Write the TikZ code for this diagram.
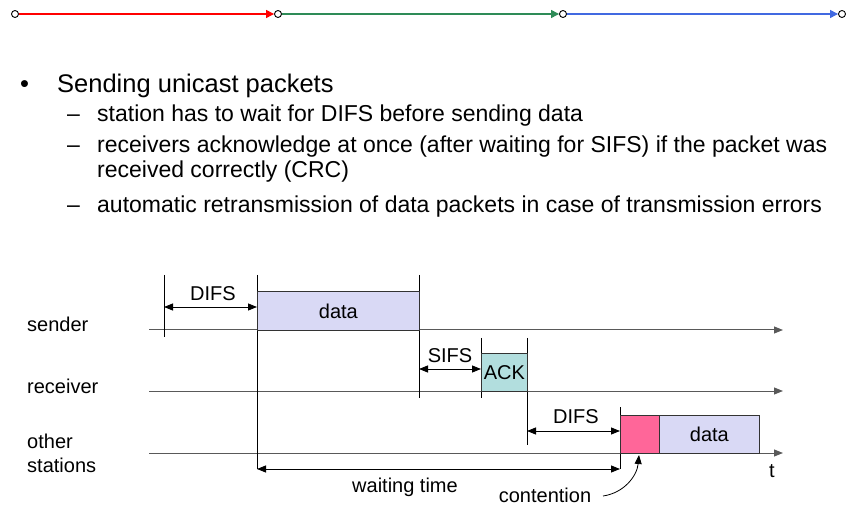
\documentclass[tikz,border=0pt]{standalone}
\usepackage{fontspec}
\setmainfont{Liberation Sans}
\usetikzlibrary{arrows.meta}
\definecolor{datafill}{RGB}{217,217,245}
\definecolor{ackfill}{RGB}{178,222,222}
\definecolor{contfill}{RGB}{255,102,153}
\definecolor{linkred}{RGB}{255,0,0}
\definecolor{linkgreen}{RGB}{46,139,87}
\definecolor{linkblue}{RGB}{65,105,225}
\begin{document}
\begin{tikzpicture}[x=1pt,y=-1pt,
  lbl/.style={font=\fontsize{20}{24}\selectfont, inner sep=0pt},
  axis/.style={draw=black!65, line width=1pt, -{Triangle[length=9pt,width=7pt]}},
  tick/.style={draw=black, line width=0.8pt},
  span/.style={draw=black, line width=0.8pt, {Triangle[length=9pt,width=7pt]}-{Triangle[length=9pt,width=7pt]}},
  slot/.style={draw=black!80, line width=0.8pt, inner sep=0pt, anchor=north west, font=\fontsize{20}{24}\selectfont},
  hop/.style={line width=1.3pt, -{Triangle[length=8pt,width=8pt]}},
  dot/.style={circle, draw=black, fill=white, line width=0.9pt, minimum size=7pt, inner sep=0pt},
  head/.style={font=\fontsize{25.5}{30}\selectfont, inner sep=0pt, anchor=base west},
  item/.style={font=\fontsize{23}{25}\selectfont, inner sep=0pt, anchor=base west},
]
\useasboundingbox (0,0) rectangle (855,505);

% navigation chain at the top
\node[dot] (p0) at (15,14) {};
\node[dot] (p1) at (278,14) {};
\node[dot] (p2) at (563,14) {};
\node[dot] (p3) at (842,14) {};
\draw[hop, linkred] (p0) -- (p1);
\draw[hop, linkgreen] (p1) -- (p2);
\draw[hop, linkblue] (p2) -- (p3);

% bullet text
\node[head] (bul) at (20,93) {•};
\node[head] (h1) at (57,93) {Sending unicast packets};
\node[item] (m1) at (67,122) {–};
\node[item] (t1) at (97,122) {station has to wait for DIFS before sending data};
\node[item] (m2) at (67,153) {–};
\node[item] (t2) at (97,153) {receivers acknowledge at once (after waiting for SIFS) if the packet was};
\node[item] (t2b) at (97,178) {received correctly (CRC)};
\node[item] (m3) at (67,213) {–};
\node[item] (t3) at (97,213) {automatic retransmission of data packets in case of transmission errors};

% time axes
\coordinate (sA) at (149,330); \coordinate (sB) at (783,330);
\coordinate (rA) at (149,391); \coordinate (rB) at (783,391);
\coordinate (oA) at (149,453); \coordinate (oB) at (783,453);
\draw[axis] (sA) -- (sB);
\draw[axis] (rA) -- (rB);
\draw[axis] (oA) -- (oB);

\node[lbl, anchor=base west] (lsend) at (27,332) {sender};
\node[lbl, anchor=base west] (lrecv) at (27,393) {receiver};
\node[lbl, anchor=base west] (loth1) at (27,448) {other};
\node[lbl, anchor=base west] (loth2) at (27,472) {stations};
\node[lbl] (tlab) at (772,471) {t};

% vertical time marks
\coordinate (a1) at (164,275); \coordinate (a2) at (164,337);
\coordinate (b1) at (257,275); \coordinate (b2) at (257,469);
\coordinate (c1) at (419,275); \coordinate (c2) at (419,398);
\coordinate (d1) at (481,338); \coordinate (d2) at (481,398);
\coordinate (e1) at (527,338); \coordinate (e2) at (527,445);
\coordinate (f1) at (620,407); \coordinate (f2) at (620,469);
\draw[tick] (a1) -- (a2);
\draw[tick] (b1) -- (b2);
\draw[tick] (c1) -- (c2);
\draw[tick] (d1) -- (d2);
\draw[tick] (e1) -- (e2);
\draw[tick] (f1) -- (f2);

% frames on the medium
\node[slot, fill=datafill, minimum width=162pt, minimum height=39pt] (data1) at (257,291) {data};
\node[slot, fill=ackfill, minimum width=46pt, minimum height=38pt] (ack) at (481,353) {ACK};
\node[slot, fill=contfill, minimum width=39pt, minimum height=38pt] (cw) at (620,415) {};
\node[slot, fill=datafill, minimum width=100pt, minimum height=38pt] (data2) at (659,415) {data};

% interframe spaces
\coordinate (i1) at (164,307); \coordinate (i2) at (257,307);
\coordinate (j1) at (419,369); \coordinate (j2) at (481,369);
\coordinate (k1) at (527,431); \coordinate (k2) at (620,431);
\coordinate (w1) at (257,469); \coordinate (w2) at (620,469);
\draw[span] (i1) -- (i2);
\draw[span] (j1) -- (j2);
\draw[span] (k1) -- (k2);
\draw[span] (w1) -- (w2);
\node[lbl] (difs1) at (213,294) {DIFS};
\node[lbl] (sifs) at (450,356) {SIFS};
\node[lbl] (difs2) at (576,417) {DIFS};
\node[lbl] (wait) at (405,487) {waiting time};

% contention pointer
\node[lbl] (cont) at (545,495) {contention};
\coordinate (cs) at (603,496);
\coordinate (ce) at (639,455);
\draw[line width=0.8pt, -{Triangle[length=9pt,width=7pt]}] (cs) .. controls (624,493) and (637,476) .. (ce);
\end{tikzpicture}
\end{document}
